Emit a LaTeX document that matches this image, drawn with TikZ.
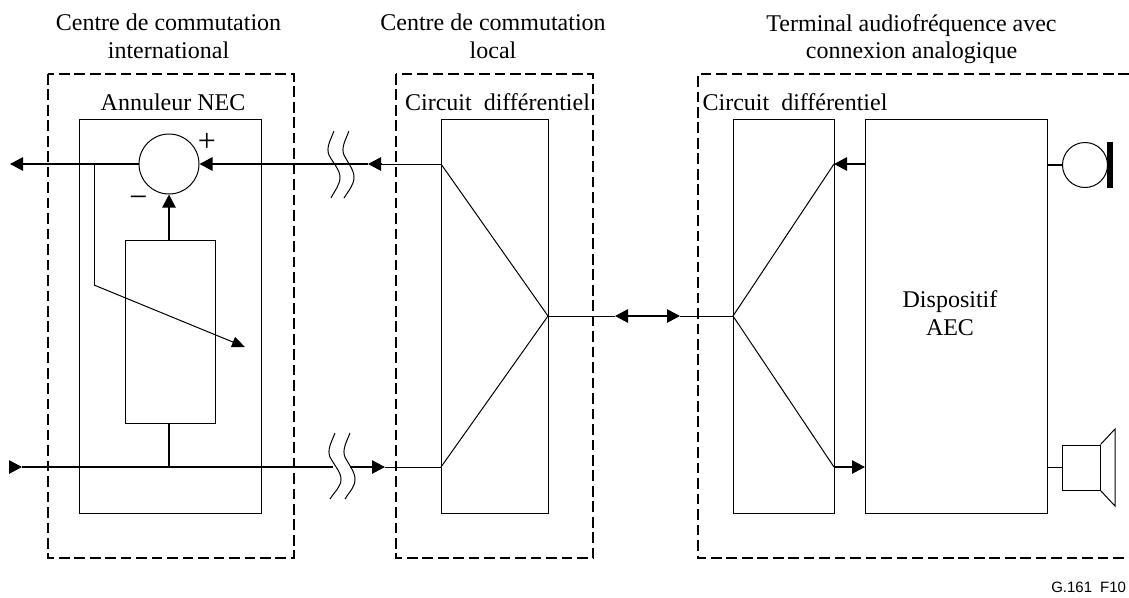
\documentclass[tikz,border=0pt]{standalone}
\usepackage{fontspec}
\setmainfont{Liberation Serif}
\setsansfont{Liberation Sans}
\usetikzlibrary{arrows.meta,fit}
\tikzset{
	blockbox/.style={draw, line width=0.75pt, inner sep=0pt},
	zonebox/.style={line width=1.2pt, dash pattern=on 8pt off 3.6pt},
	thinline/.style={line width=0.75pt},
	sigline/.style={line width=1.3pt},
	sigtip/.style={-{Triangle[length=9.75pt,width=10pt]}},
	sigtips/.style={{Triangle[length=9.75pt,width=10pt]}-{Triangle[length=9.75pt,width=10pt]}},
	titletext/.style={font=\fontsize{18pt}{20.6pt}\selectfont, align=center, inner sep=0pt},
	signtext/.style={font=\fontsize{24pt}{24pt}\selectfont, inner sep=0pt},
	breakline/.style={line width=0.75pt}
}
\begin{document}
\begin{tikzpicture}[x=0.75pt, y=-0.75pt]
	\useasboundingbox (0, 0) rectangle (1129, 597);
	% zones
	\draw[zonebox](48, 74) rectangle (294, 558);
	\draw[zonebox](396, 74) rectangle (593, 558);
	\draw[zonebox](1129, 74)--(698, 74)--(698, 558)--(1129, 558);
	\node[titletext] (titleint) at (168.5, 36.5) {Centre de commutation\\international};
	\node[titletext] (titleloc) at (493, 36.5) {Centre de commutation\\local};
	\node[titletext] (titleterm) at (911.5, 39) {Terminal audiofréquence avec\\connexion analogique};
	% annuleur NEC
	\node[blockbox, fit={(79, 119)(261, 513)}] (nec) {};
	\node[titletext, anchor=base] (neclabel) at (173, 110) {Annuleur NEC};
	\node[draw, circle, thinline, minimum size=45pt, inner sep=0pt] (sum) at (169, 164) {};
	\node[blockbox, fit={(125, 240)(215, 423)}] (filter) {};
	\node[signtext] (plus) at (207, 142) {+};
	\node[signtext] (minus) at (138.5, 202) {\textminus};
	% circuits
	\node[blockbox, fit={(441, 119)(548, 513)}] (difflocal) {};
	\node[blockbox, fit={(733, 119)(834, 513)}] (diffterm) {};
	\node[blockbox, fit={(865, 119)(1047, 513)}] (aec) {};
	\node[titletext, anchor=base] (difflocallabel) at (497.5, 110) {Circuit\enspace différentiel};
	\node[titletext, anchor=base] (difftermlabel) at (795, 110) {Circuit\enspace différentiel};
	\node[titletext] (aeclabel) at (950, 313) {Dispositif\\AEC};
	% junctions and free ends
	\coordinate (outleft) at (10, 164);
	\coordinate (tap) at (94, 164);
	\coordinate (bend) at (94, 285);
	\coordinate (taptip) at (245, 347);
	\coordinate (backtip) at (368, 164);
	\coordinate (backbase) at (381, 164);
	\coordinate (localtop) at (441, 164);
	\coordinate (localbot) at (441, 467);
	\coordinate (localmid) at (548, 316);
	\coordinate (inleft) at (9, 467);
	\coordinate (inmid) at (22, 467);
	\coordinate (tee) at (169, 467);
	\coordinate (gapleft) at (333, 467);
	\coordinate (gapright) at (350, 467);
	\coordinate (fwdtip) at (385, 467);
	\coordinate (linkleft) at (615, 316);
	\coordinate (linkright) at (680, 316);
	\coordinate (termmid) at (733, 316);
	\coordinate (termtop) at (834, 164);
	\coordinate (termbot) at (834, 467);
	\coordinate (aectop) at (865, 164);
	\coordinate (aecbot) at (865, 467);
	% signal paths
	\draw[sigline, sigtip](sum.west)--(outleft);
	\draw[sigline, sigtip](backtip)--(sum.east);
	\draw[sigline, sigtip](backbase)--(backtip);
	\draw[thinline](backbase)--(localtop);
	\draw[sigline, sigtip](sum |- filter.north)--(sum.south);
	\draw[sigline](tee |- filter.south)--(tee);
	\draw[thinline](tap)--(bend);
	\draw[thinline, -{Triangle[length=9.75pt,width=8pt]}](bend)--(taptip);
	\draw[sigline, sigtip](inleft)--(inmid);
	\draw[sigline](inmid)--(gapleft);
	\draw[sigline, sigtip](gapright)--(fwdtip);
	\draw[thinline](fwdtip)--(localbot);
	% hybrids
	\draw[thinline](localtop)--(localmid)--(localbot);
	\draw[thinline](termtop)--(termmid)--(termbot);
	\draw[thinline](localmid)--(linkleft);
	\draw[thinline](linkright)--(termmid);
	\draw[sigline, sigtips](linkleft)--(linkright);
	\draw[sigline, sigtip](aectop)--(termtop);
	\draw[sigline, sigtip](termbot)--(aecbot);
	% line breaks
	\draw[breakline](334, 131) .. controls (330, 141) and (326, 148) .. (329, 155) .. controls (333, 163) and (340, 170) .. (340, 177) .. controls (340, 185) and (335, 190) .. (331, 198);
	\draw[breakline](349, 131) .. controls (345, 141) and (341, 148) .. (344, 155) .. controls (348, 163) and (354, 170) .. (354, 177) .. controls (354, 185) and (349, 190) .. (344, 198);
	\draw[breakline](335, 433) .. controls (331, 443) and (327, 450) .. (330, 457) .. controls (334, 465) and (341, 472) .. (341, 479) .. controls (341, 487) and (335, 491) .. (330, 499);
	\draw[breakline](350, 433) .. controls (346, 443) and (342, 450) .. (345, 457) .. controls (349, 465) and (355, 472) .. (355, 479) .. controls (355, 487) and (350, 491) .. (345, 499);
	% microphone
	\node[draw, circle, thinline, minimum size=33.75pt, inner sep=0pt] (mic) at (1085, 165) {};
	\node[fill=black, fit={(1107, 142)(1113, 188)}, inner sep=0pt] (micbar) {};
	\draw[sigline](aec.east |- mic)--(mic);
	% loudspeaker
	\node[blockbox, fit={(1062, 445)(1100, 490)}] (spk) {};
	\coordinate (conetop) at (1115, 429);
	\coordinate (conebot) at (1115, 506);
	\draw[thinline](spk.north east)--(conetop)--(conebot)--(spk.south east);
	\draw[sigline](aec.east |- spk)--(spk);
	% figure number
	\node[anchor=base west, inner sep=0pt, font=\sffamily\fontsize{11.25pt}{11.25pt}\selectfont] (figno) at (1051, 592) {G.161\hspace{6pt}F10};
\end{tikzpicture}
\end{document}
